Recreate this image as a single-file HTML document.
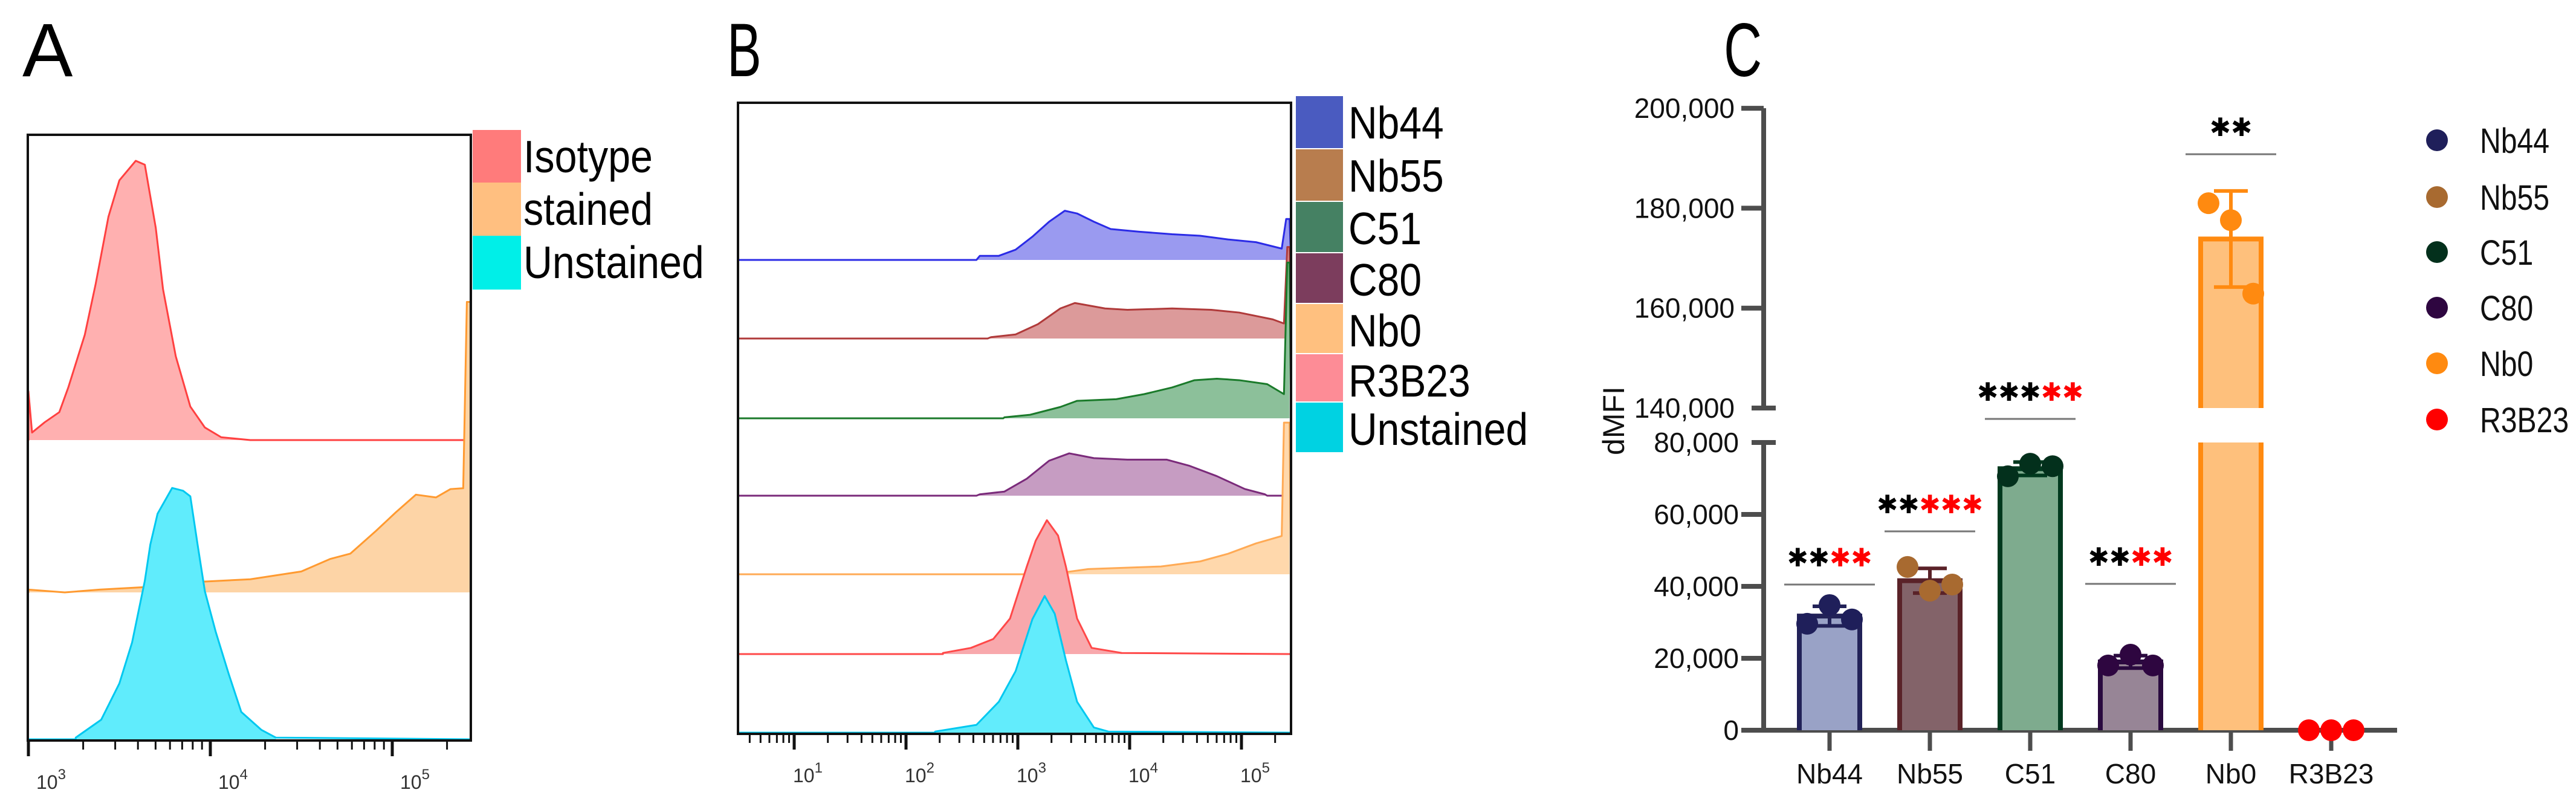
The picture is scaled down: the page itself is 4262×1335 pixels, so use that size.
<!DOCTYPE html>
<html><head><meta charset="utf-8"><style>
html,body{margin:0;padding:0;background:#fff;}
svg{display:block;font-family:"Liberation Sans",Arial,sans-serif;}
</style></head><body>
<svg id="fig" xmlns="http://www.w3.org/2000/svg" width="4262" height="1335" viewBox="0 0 4262 1335">
<rect x="0" y="0" width="4262" height="1335" fill="#fff"/>
<text x="37" y="126" font-size="125">A</text>
<text x="0" y="0" font-size="125" transform="translate(1203,126) scale(0.68,1)">B</text>
<text x="0" y="0" font-size="125" transform="translate(2852,126) scale(0.7,1)">C</text>
</svg>
<script>
// ---------- Panel A data (log10 fluorescence, relative count) ----------
const isoLog=[3.0,3.02,3.09,3.17,3.22,3.31,3.37,3.44,3.50,3.59,3.64,3.70,3.74,3.81,3.89,3.97,4.06,4.22,5.43];
const isoCnt=[17.5,2.7,6.4,10,19,37.7,56,80,93,100,98.6,76,54,30,12,4.5,1,0,0];
const stLog=[3.0,3.20,3.39,3.67,3.94,4.22,4.50,4.66,4.77,4.91,5.02,5.13,5.24,5.32,5.39,5.41,5.43];
const stCnt=[1,0,1,2,3.8,4.7,7.5,12,13.9,22,28.7,35,34,37,37.3,104,104];
const unLog=[3.26,3.40,3.50,3.57,3.64,3.67,3.71,3.75,3.79,3.85,3.89,3.93,3.97,4.03,4.10,4.17,4.28,4.36];
const unCnt=[0.6,7,20,34.7,56.8,69.7,80.8,85.4,90,89,87,69.7,53,38.4,23.6,9.8,3.4,0.6];
const aNames=["Isotype","stained","Unstained"];
const aTicks=[3,4,5];
// ---------- Panel B data ----------
const nb44Log=[2.63,2.66,2.83,2.98,3.13,3.28,3.42,3.53,3.68,3.83,4.08,4.38,4.63,4.88,5.13,5.36,5.40,5.43];
const nb44Cnt=[0,3,3,7.5,17,28,36,34,28,22.6,20.7,18.8,17.7,15,13,8.3,30,30];
const nb55Log=[2.73,2.76,2.98,3.18,3.38,3.51,3.78,3.98,4.38,4.73,4.98,5.28,5.38,5.41,5.43];
const nb55Cnt=[0,1,3,10.5,22,26,22,21,22,21,19,14,11,67,67];
const c51Log=[2.87,2.88,3.11,3.38,3.53,3.88,4.13,4.38,4.58,4.78,4.98,5.23,5.38,5.41,5.43];
const c51Cnt=[0,0.7,2.6,8.3,12.8,14,17.7,22.6,27.9,29,27.9,25,17.7,114,114];
const c80Log=[2.63,2.66,2.88,3.08,3.28,3.46,3.68,3.98,4.33,4.53,4.78,5.03,5.21,5.23];
const c80Cnt=[0,1,3,12.4,25.6,31,27.5,26.4,26.4,22,14.3,4.9,1,0];
const nb0Log=[3.35,3.38,3.63,4.28,4.63,4.88,5.13,5.36,5.38,5.43];
const nb0Cnt=[0,1,3.8,5.7,9.4,15,22.6,28,111,111];
const r3Log=[2.33,2.58,2.78,2.93,3.08,3.16,3.26,3.36,3.43,3.53,3.66,3.93];
const r3Cnt=[0.8,4.5,11,26,64,83,98,86.7,64,26,4.5,0.8];
const ubLog=[2.26,2.63,2.83,2.98,3.13,3.24,3.33,3.43,3.53,3.68,3.81];
const ubCnt=[0.8,5.7,22.6,45,83,100,87,53,22.6,3.8,0.8];
const bNames=["Nb44","Nb55","C51","C80","Nb0","R3B23","Unstained"];
const bTicks=[1,2,3,4,5];
// ---------- Panel C data ----------
const cCats=["Nb44","Nb55","C51","C80","Nb0","R3B23"];
const cPts=[[29600,34800,30800],[45400,38800,40500],[70600,74100,73400],[18000,21000,18000],[181000,177600,162900],[0,0,0]];
const cTicksLow=[0,20000,40000,60000,80000];
const cTicksHigh=[140000,160000,180000,200000];
const cSigBlack=[2,2,3,2,2,0];
const cSigRed=[2,3,2,2,0,0];
const cSigLevel=[40500,55300,121000,40700,190800,0];

const NS="http://www.w3.org/2000/svg";
const svg=document.getElementById('fig');
function mk(tag,attrs,parent){const e=document.createElementNS(NS,tag);for(const k in attrs)e.setAttribute(k,attrs[k]);(parent||svg).appendChild(e);return e;}

// ===== generic histogram =====
function hist(g,logs,cnts,base,xf,k,left,right,line,fill,name){
  let pts=[[left,base],[xf(logs[0]),base]];
  for(let i=0;i<logs.length;i++)pts.push([Math.min(xf(logs[i]),right),base-cnts[i]*k]);
  const lastX=Math.min(xf(logs[logs.length-1]),right);
  let fillD="M"+xf(logs[0])+","+base;
  for(let i=0;i<logs.length;i++)fillD+=" L"+Math.min(xf(logs[i]),right)+","+(base-cnts[i]*k);
  fillD+=" L"+lastX+","+base+" Z";
  const f=mk('path',{d:fillD,fill:fill,stroke:'none'},g);
  
  
  let d="M"+pts.map(p=>p[0]+","+p[1]).join(" L");
  if(lastX<right)d+=" L"+right+","+base; else d+=" L"+right+","+base;
  const l=mk('path',{d:d,fill:'none',stroke:line,'stroke-width':3,'stroke-linejoin':'round'},g);
  
  
}
function logAxis(g,xf,lo,hi,majors,yTop,labelDx,name){
  for(let d=Math.floor(lo);d<=Math.ceil(hi);d++){
    for(let m=1;m<10;m++){
      const lv=d+Math.log10(m);
      if(lv<lo-0.001||lv>hi)continue;
      const x=xf(lv);
      const t=mk('line',{x1:x,x2:x,y1:yTop,y2:yTop+(m===1?26:15),stroke:'#111','stroke-width':m===1?5:3},g);
      
      
    }
  }
  majors.forEach(p=>{
    const t=mk('text',{x:xf(p)+labelDx,y:yTop+80,'font-size':32,fill:'#333'},g);
    
    
    t.textContent='10';
    const s=mk('tspan',{dy:-16,'font-size':24},t);
    s.textContent=String(p);
  });
}

// ===== Panel A =====
const gA=mk('g',{});


const xA=v=>47+(v-3)*301;
const kA=4.62;
hist(gA,isoLog,isoCnt,728,xA,kA,46,779,'#ff4040','#ffb0b0','isotype');
hist(gA,stLog,stCnt,980,xA,kA,46,779,'#ff9a30','#fdd4a6','stained');
hist(gA,unLog,unCnt,1223,xA,kA,46,779,'#00c8f0','#60ecfc','unstained');
const frA=mk('rect',{x:46,y:223,width:733,height:1002,fill:'none',stroke:'#111','stroke-width':4},gA);


logAxis(gA,xA,3,5.43,aTicks,1225,13,'a');
const aCols=['#ff7b7b','#ffbf80','#00efe8'];
const aRows=[215,302,390,479];
aNames.forEach((n,i)=>{
  const r=mk('rect',{x:782,y:aRows[i],width:80,height:aRows[i+1]-aRows[i],fill:aCols[i]},gA);
  
  
  const t=mk('text',{x:0,y:0,'font-size':75,transform:'translate(866,'+(aRows[i]+70)+') scale(0.885,1)'},gA);
  
  
  t.textContent=n;
});

// ===== Panel B =====
const gB=mk('g',{});


const xB=v=>1314+(v-1)*185;
const kB=2.26;
const bSeries=[[nb44Log,nb44Cnt,430,'#2b2be6','#9a9af0'],[nb55Log,nb55Cnt,560,'#b03a3a','#dc9a9a'],[c51Log,c51Cnt,692,'#1a7a2a','#8cc09a'],[c80Log,c80Cnt,820,'#7a2a7a','#c69cc2'],[nb0Log,nb0Cnt,950,'#ffaa55','#ffd8ac'],[r3Log,r3Cnt,1082,'#ff4848','#f8a8ac'],[ubLog,ubCnt,1212,'#00c8f0','#62ecfc']];
bSeries.forEach((s,i)=>hist(gB,s[0],s[1],s[2],xB,kB,1221,2136,s[3],s[4],bNames[i].toLowerCase()));
const frB=mk('rect',{x:1221,y:170,width:915,height:1044,fill:'none',stroke:'#111','stroke-width':4},gB);


logAxis(gB,xB,0.5,5.46,bTicks,1214,-2,'b');
const bCols=['#4a5bc0','#b87d4e','#458163','#7c3d5d','#ffc07f','#fd8c96','#00d2e2'];
const bRows=[159,247,334,419,503,586,666,750];
bNames.forEach((n,i)=>{
  const r=mk('rect',{x:2144,y:bRows[i],width:78,height:bRows[i+1]-bRows[i]-2,fill:bCols[i]},gB);
  
  
  const t=mk('text',{x:0,y:0,'font-size':75,transform:'translate(2231,'+(bRows[i]+70)+') scale(0.88,1)'},gB);
  
  
  t.textContent=n;
});

// ===== Panel C =====
const gC=mk('g',{});


const BASE=1208;
function yC(v){
  if(v<=80000)return BASE-v/20000*119;
  if(v>=140000)return 675-(v-140000)/20000*165.3;
  return 732-(v-80000)/60000*57;
}
const xC=i=>3027+i*166;
const cFill=['#99a2c6','#836369','#7eab8e','#978596','#fec07c','#ff0000'];
const cEdge=['#222258','#5a2228','#00391e','#2a0a3f','#ff8a10','#ff0000'];
const cDot=['#1f1f5a','#a86a30','#03301c','#2e0640','#ff8a10','#ff0000'];
// axes
const axU=mk('line',{x1:2918,x2:2918,y1:179,y2:675,stroke:'#4d4d4d','stroke-width':8},gC);


const axL=mk('line',{x1:2918,x2:2918,y1:732,y2:BASE+4,stroke:'#4d4d4d','stroke-width':8},gC);


cTicksHigh.concat(cTicksLow).forEach(v=>{
  const y=yC(v);
  const brk=(v===140000||v===80000);
  const t=mk('line',{x1:brk?2898:2881,x2:brk?2938:2918,y1:y,y2:y,stroke:'#4d4d4d','stroke-width':8},gC);
  
  
  const lb=mk('text',{x:v>=140000?2870:2877,y:y+16,'font-size':46,'text-anchor':'end',fill:'#111'},gC);
  
  
  lb.textContent=v.toLocaleString('en-US');
});
const yt=mk('text',{x:0,y:0,'font-size':50,'text-anchor':'middle',transform:'translate(2687,696) rotate(-90)',fill:'#111'},gC);


yt.textContent='dMFI';
const xax=mk('line',{x1:2887,x2:3966,y1:BASE,y2:BASE,stroke:'#4d4d4d','stroke-width':8},gC);


cCats.forEach((c,i)=>{
  const x=xC(i);
  const t=mk('line',{x1:x,x2:x,y1:BASE,y2:BASE+34,stroke:'#4d4d4d','stroke-width':7},gC);
  
  
  const lb=mk('text',{x:x,y:1296,'font-size':46,'text-anchor':'middle',fill:'#111'},gC);
  
  
  lb.textContent=c;
});
// bars
cPts.forEach((p,i)=>{
  const mean=p.reduce((a,b)=>a+b,0)/p.length;
  const sd=Math.sqrt(p.reduce((a,b)=>a+(b-mean)*(b-mean),0)/(p.length-1));
  const x=xC(i),l=x-50,r=x+50;
  if(mean>0){
    if(mean>80000){
      const f1=mk('rect',{x:l,y:yC(80000),width:100,height:BASE-yC(80000),fill:cFill[i]},gC);
      
      
      const f2=mk('rect',{x:l,y:yC(mean),width:100,height:yC(140000)-yC(mean),fill:cFill[i]},gC);
      
      
      const o=mk('path',{d:'M'+l+','+yC(140000)+' V'+yC(mean)+' H'+r+' V'+yC(140000)+' M'+l+','+yC(80000)+' V'+BASE+' M'+r+','+yC(80000)+' V'+BASE,fill:'none',stroke:cEdge[i],'stroke-width':8},gC);
      
      
    }else{
      const f=mk('path',{d:'M'+l+','+BASE+' V'+yC(mean)+' H'+r+' V'+BASE,fill:cFill[i],stroke:cEdge[i],'stroke-width':8},gC);
      
      
    }
    const e=mk('path',{d:'M'+x+','+yC(mean-sd)+' V'+yC(mean+sd)+' M'+(x-28)+','+yC(mean+sd)+' H'+(x+28)+' M'+(x-28)+','+yC(mean-sd)+' H'+(x+28),fill:'none',stroke:cEdge[i],'stroke-width':6},gC);
    
    
  }
  p.forEach((v,j)=>{
    const d=mk('circle',{cx:x+(j-1)*37,cy:yC(v),r:18,fill:cDot[i]},gC);
    
    
  });
  // significance
  if(cSigBlack[i]+cSigRed[i]>0){
    const y=yC(cSigLevel[i]);
    const sl=mk('line',{x1:x-75,x2:x+75,y1:y,y2:y,stroke:'#777','stroke-width':3},gC);
    
    
    const st=mk('text',{x:x,y:y-30,'font-size':42,'text-anchor':'middle','font-family':'DejaVu Sans, sans-serif','font-weight':'bold'},gC);
    
    
    const b=mk('tspan',{fill:'#000'},st);
    b.textContent='\u2731'.repeat(cSigBlack[i]);
    const rr=mk('tspan',{fill:'#ff0000'},st);
    rr.textContent='\u2731'.repeat(cSigRed[i]);
  }
});
// legend C
const cLegY=[232,326,417,509,601,694];
cCats.forEach((c,i)=>{
  const d=mk('circle',{cx:4032,cy:cLegY[i],r:18,fill:cDot[i]},gC);
  
  
  const t=mk('text',{x:0,y:0,'font-size':58,transform:'translate(4103,'+(cLegY[i]+21)+') scale(0.83,1)',fill:'#111'},gC);
  
  
  t.textContent=c;
});
</script>
</body></html>
